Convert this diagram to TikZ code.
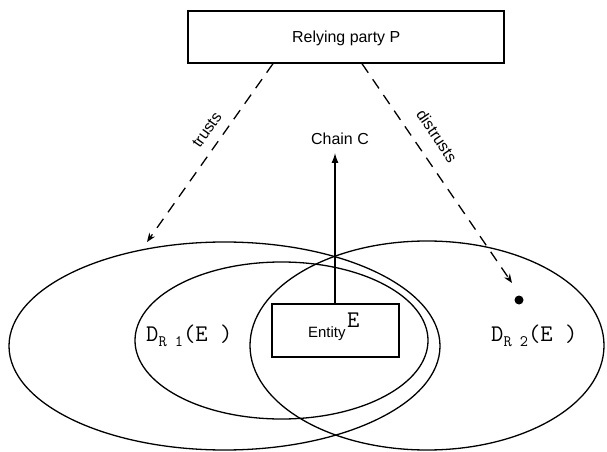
\documentclass[tikz,border=0pt]{standalone}
\usepackage{fontspec}
\setsansfont{Liberation Sans}
\usetikzlibrary{arrows.meta}
\begin{document}
\begin{tikzpicture}[x=1bp,y=-1bp,
  lw/.style={line width=1.3bp},
  boxnode/.style={draw,lw,inner sep=0,fill=white},
  sflabel/.style={font=\sffamily\fontsize{16}{16}\selectfont,inner sep=1bp},
  dlabel/.style={font=\ttfamily\fontsize{24}{24}\selectfont,inner sep=0},
  dasharrow/.style={lw,dash pattern=on 11bp off 8bp,-{Stealth[length=9bp,width=7bp]}},
]
\useasboundingbox (0,0) rectangle (607,452);
% domains
\draw[lw] (224.5,346) ellipse [x radius=215.5bp, y radius=104bp];
\draw[lw] (281.5,340.5) ellipse [x radius=146.5bp, y radius=78.5bp];
\draw[lw] (427,345.5) ellipse [x radius=177bp, y radius=104.5bp];
% relying party
\node[boxnode,minimum width=316bp,minimum height=52bp] (P) at (346,37) {};
\node[sflabel,anchor=base west,inner sep=0] (Ptext) at (292,43) {Relying party P};
% entity
\node[boxnode,minimum width=127bp,minimum height=53bp] (ent) at (335.5,330.5) {};
\node[sflabel,font=\sffamily\fontsize{15}{15}\selectfont,anchor=base west,inner sep=0] (enttext) at (308,337) {Entity};
\node[dlabel,anchor=base west] (entE) at (347,327) {E};
% chain
\node[sflabel,anchor=base west,inner sep=0] (chain) at (311,145) {Chain C};
\draw[lw,-{Latex[length=10bp,width=7bp]}] (ent.north -| 335,0) -- (335,153);
% domain labels
\node[dlabel,anchor=base west] (DR1) at (146,341) {D\raisebox{-5bp}{\fontsize{16}{16}\selectfont R 1}(E )};
\node[dlabel,anchor=base west] (DR2) at (491,341) {D\raisebox{-5bp}{\fontsize{16}{16}\selectfont R 2}(E )};
% trust arrows
\coordinate (t1) at (147,242);
\coordinate (t2) at (512,283);
\draw[dasharrow] ([xshift=-73bp]P.south) -- (t1);
\draw[dasharrow] ([xshift=16bp]P.south) -- (t2);
\node[sflabel,rotate=55] (trusts) at (207,130) {trusts};
\node[sflabel,rotate=-56] (distrusts) at (437,136) {distrusts};
\node[circle,fill,inner sep=0,minimum size=9bp] (dot) at (519,300) {};
\end{tikzpicture}
\end{document}
